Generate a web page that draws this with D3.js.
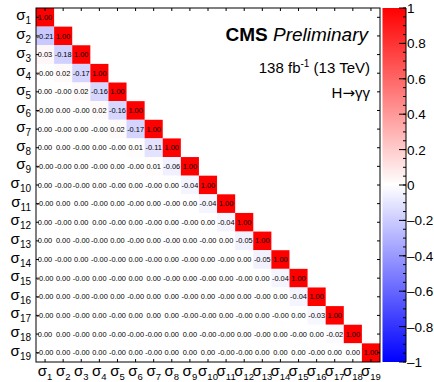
<!DOCTYPE html>
<html>
<head>
<meta charset="utf-8">
<script src="https://cdn.jsdelivr.net/npm/d3@7"></script>
<style>
  body { margin: 0; background: #fff; }
  text { font-family: "Liberation Sans", Arial, sans-serif; }
</style>
</head>
<body>
<div id="chart"></div>
<script>
// bin labels (sigma_1 .. sigma_19)
const bins = d3.range(1, 20).map(d => String(d));

// lower triangle of the correlation matrix, row i holds columns 1..i
const corr = [
  [1.00],
  [-0.21, 1.00],
  [0.03, -0.18, 1.00],
  [-0.00, 0.02, -0.17, 1.00],
  [0.00, -0.00, 0.02, -0.16, 1.00],
  [-0.00, 0.00, -0.00, 0.02, -0.16, 1.00],
  [0.00, -0.00, 0.00, -0.00, 0.02, -0.17, 1.00],
  [0.00, 0.00, -0.00, 0.00, -0.00, 0.01, -0.11, 1.00],
  [-0.00, -0.00, 0.00, -0.00, 0.00, -0.00, 0.01, -0.06, 1.00],
  [0.00, -0.00, -0.00, 0.00, -0.00, 0.00, -0.00, 0.00, -0.04, 1.00],
  [-0.00, 0.00, 0.00, -0.00, 0.00, -0.00, 0.00, -0.00, 0.00, -0.04, 1.00],
  [0.00, -0.00, 0.00, 0.00, -0.00, 0.00, -0.00, 0.00, -0.00, 0.00, -0.04, 1.00],
  [0.00, 0.00, -0.00, -0.00, 0.00, -0.00, 0.00, -0.00, 0.00, -0.00, 0.00, -0.05, 1.00],
  [0.00, -0.00, 0.00, -0.00, -0.00, 0.00, -0.00, 0.00, -0.00, 0.00, -0.00, 0.00, -0.05, 1.00],
  [-0.00, 0.00, -0.00, 0.00, -0.00, 0.00, 0.00, -0.00, 0.00, -0.00, 0.00, -0.00, 0.00, -0.04, 1.00],
  [-0.00, 0.00, -0.00, -0.00, 0.00, -0.00, 0.00, 0.00, -0.00, 0.00, -0.00, 0.00, -0.00, 0.00, -0.04, 1.00],
  [-0.00, 0.00, -0.00, 0.00, -0.00, 0.00, 0.00, 0.00, -0.00, -0.00, 0.00, -0.00, 0.00, -0.00, 0.00, -0.03, 1.00],
  [0.00, 0.00, -0.00, 0.00, -0.00, -0.00, -0.00, 0.00, 0.00, -0.00, -0.00, 0.00, -0.00, 0.00, -0.00, 0.00, -0.02, 1.00],
  [-0.00, 0.00, -0.00, 0.00, -0.00, 0.00, -0.00, 0.00, 0.00, 0.00, -0.00, -0.00, 0.00, 0.00, 0.00, -0.00, 0.00, 0.00, 1.00]
];

// colour bar ticks
const zTicks = [-1, -0.8, -0.6, -0.4, -0.2, 0, 0.2, 0.4, 0.6, 0.8, 1];

const W = 434, H = 382;
const mL = 36, mR = 380, mT = 8, mB = 362;

const svg = d3.select('#chart').append('svg')
  .attr('width', W).attr('height', H);

const x = d3.scaleBand().domain(bins).range([mL, mR]);
const y = d3.scaleBand().domain(bins).range([mT, mB]);
const color = d3.scaleLinear().domain([-1, 0, 1]).range(['#0000ff', '#ffffff', '#ff0000']);

// flatten matrix into cells
let cells = [];
corr.forEach((row, i) => {
  row.forEach((v, j) => {
    cells.push({ r: bins[i], c: bins[j], v: v });
  });
});

const g = svg.append('g');
g.selectAll('rect.cell')
  .data(cells)
  .enter()
  .append('rect')
  .attr('class', 'cell')
  .attr('x', d => x(d.c))
  .attr('y', d => y(d.r))
  .attr('width', x.bandwidth())
  .attr('height', y.bandwidth())
  .attr('fill', d => color(d.v));

g.selectAll('text.val')
  .data(cells)
  .enter()
  .append('text')
  .attr('class', 'val')
  .attr('x', d => x(d.c) + x.bandwidth() / 2)
  .attr('y', d => y(d.r) + y.bandwidth() / 2 + 2.6)
  .attr('text-anchor', 'middle')
  .attr('font-size', '7.4px')
  .attr('fill', '#000')
  .text(d => {
    // keep the sign of tiny negatives like ROOT does
    let s = Math.abs(d.v).toFixed(2);
    return (d.v < 0 || Object.is(d.v, -0) ? '-' : '') + s;
  });

// frame
svg.append('rect')
  .attr('x', mL).attr('y', mT)
  .attr('width', mR - mL).attr('height', mB - mT)
  .attr('fill', 'none').attr('stroke', '#000').attr('stroke-width', 1);

// small ticks on the frame at bin centres
bins.forEach(b => {
  let cx = x(b) + x.bandwidth() / 2;
  let cy = y(b) + y.bandwidth() / 2;
  svg.append('line').attr('x1', cx).attr('x2', cx).attr('y1', mT).attr('y2', mT + 3).attr('stroke', '#000');
  svg.append('line').attr('x1', cx).attr('x2', cx).attr('y1', mB).attr('y2', mB - 3).attr('stroke', '#000');
  svg.append('line').attr('x1', mR).attr('x2', mR - 3).attr('y1', cy).attr('y2', cy).attr('stroke', '#000');
  svg.append('line').attr('x1', mL).attr('x2', mL + 3).attr('y1', cy).attr('y2', cy).attr('stroke', '#000');
});

// y labels
const yl = svg.selectAll('text.ylab')
  .data(bins)
  .enter()
  .append('text')
  .attr('class', 'ylab')
  .attr('x', 31)
  .attr('y', d => y(d) + y.bandwidth() / 2 + 3)
  .attr('text-anchor', 'end')
  .attr('font-size', '15px');
yl.append('tspan').text('σ');
yl.append('tspan').attr('font-size', '10px').attr('dy', 4).text(d => d);

// x labels
const xl = svg.selectAll('text.xlab')
  .data(bins)
  .enter()
  .append('text')
  .attr('class', 'xlab')
  .attr('x', d => x(d) + x.bandwidth() / 2)
  .attr('y', 376)
  .attr('text-anchor', 'middle')
  .attr('font-size', '15px');
xl.append('tspan').text('σ');
xl.append('tspan').attr('font-size', '9.5px').attr('dy', 4).text(d => d);

// colour bar
const cbL = 382.5, cbR = 406;
const z = d3.scaleLinear().domain([-1, 1]).range([mB, mT]);
const defs = svg.append('defs');
const grad = defs.append('linearGradient')
  .attr('id', 'cbgrad')
  .attr('x1', 0).attr('x2', 0).attr('y1', 1).attr('y2', 0);
[-1, 0, 1].forEach(v => {
  grad.append('stop')
    .attr('offset', ((v + 1) / 2 * 100) + '%')
    .attr('stop-color', color(v));
});
svg.append('rect')
  .attr('x', cbL).attr('y', mT)
  .attr('width', cbR - cbL).attr('height', mB - mT)
  .attr('fill', 'url(#cbgrad)');
svg.append('line').attr('x1', cbR).attr('x2', cbR).attr('y1', mT).attr('y2', mB).attr('stroke', '#000');

// major + minor ticks, drawn inwards from the right edge
const minor = d3.range(-1, 1.0001, 0.05);
svg.selectAll('line.minor')
  .data(minor)
  .enter()
  .append('line')
  .attr('x1', cbR).attr('x2', cbR - 3)
  .attr('y1', d => z(d)).attr('y2', d => z(d))
  .attr('stroke', '#000');
svg.selectAll('line.major')
  .data(zTicks)
  .enter()
  .append('line')
  .attr('x1', cbR).attr('x2', cbR - 7)
  .attr('y1', d => z(d)).attr('y2', d => z(d))
  .attr('stroke', '#000');
svg.selectAll('text.zlab')
  .data(zTicks)
  .enter()
  .append('text')
  .attr('x', 407)
  .attr('y', d => z(d) + 5)
  .attr('font-size', '13.5px')
  .text(d => (d < 0 ? '\u2013' : '') + String(Math.abs(d)));

// CMS labels
const t1 = svg.append('text')
  .attr('x', 368).attr('y', 41)
  .attr('text-anchor', 'end')
  .attr('font-size', '19px');
t1.append('tspan').attr('font-weight', 'bold').text('CMS ');
t1.append('tspan').attr('font-style', 'italic').text('Preliminary');

const t2 = svg.append('text')
  .attr('x', 370).attr('y', 73)
  .attr('text-anchor', 'end')
  .attr('font-size', '15px');
t2.append('tspan').text('138 fb');
t2.append('tspan').attr('font-size', '10px').attr('dy', -6).text('-1');
t2.append('tspan').attr('dy', 6).text(' (13 TeV)');

const t3 = svg.append('text')
  .attr('x', 370).attr('y', 98)
  .attr('text-anchor', 'end')
  .attr('font-size', '15px');
t3.append('tspan').text('H');
t3.append('tspan').attr('font-family', 'DejaVu Sans').text('\u2192');
t3.append('tspan').text('\u03b3\u03b3');
</script>
</body>
</html>
